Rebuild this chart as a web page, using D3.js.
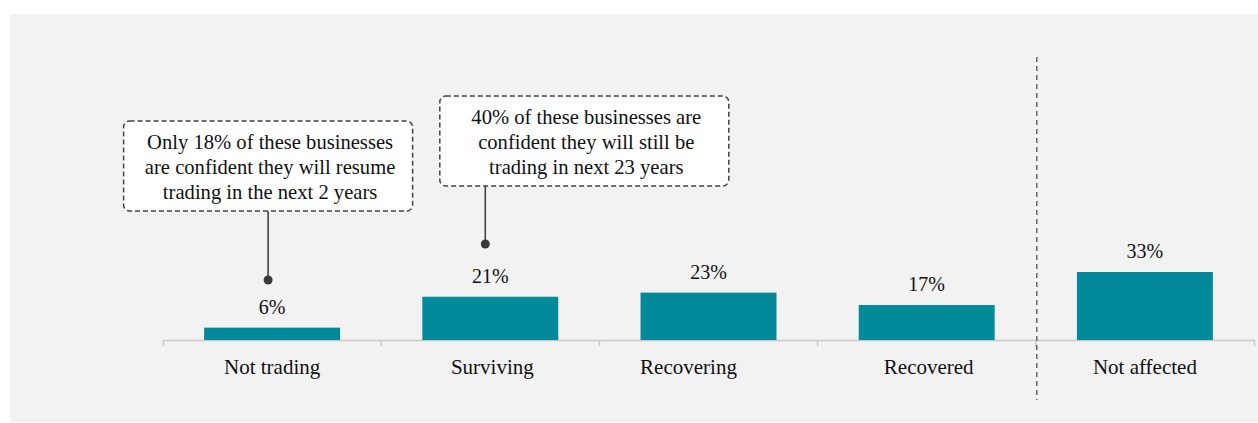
<!DOCTYPE html>
<html>
<head>
<meta charset="utf-8">
<script src="https://cdn.jsdelivr.net/npm/d3@7"></script>
<style>
  body { margin: 0; background: #fff; }
  svg { display: block; }
  text { font-family: "Liberation Serif", "Times New Roman", serif; fill: #111; }
</style>
</head>
<body>
<svg id="chart"></svg>
<script>
// data
const categories = ["Not trading", "Surviving", "Recovering", "Recovered", "Not affected"];
const values = [0.06, 0.21, 0.23, 0.17, 0.33];
const callouts = [
    { category: "Not trading", lines: ["Only 18% of these businesses", "are confident they will resume", "trading in the next 2 years"] },
    { category: "Surviving", lines: ["40% of these businesses are", "confident they will still be", "trading in next 23 years"] },
];

const W = 1258, H = 423;
const svg = d3.select("#chart").attr("width", W).attr("height", H);

svg.append("rect")
    .attr("x", 10).attr("y", 14)
    .attr("width", W - 10).attr("height", H - 14 - 1)
    .attr("fill", "#f2f2f2");

const base = 340;
const x = d3.scaleBand()
    .domain(categories)
    .range([163, 1254])
    .paddingInner(0.377)
    .paddingOuter(0.1885);

const y = d3.scaleLinear().domain([0, 1]).range([base, base - 206]);

const step = x.step();
const edge = (d) => x(d) - step * x.paddingInner() / 2;

// small label nudges seen in the original
const labelShift = { "Recovering": -20, "Surviving": 2, "Recovered": 2 };

// axis
const axis = svg.append("g")
    .attr("transform", `translate(0, ${base})`)
    .call(d3.axisBottom(x).tickSizeInner(0).tickSizeOuter(6).tickPadding(0));
axis.select(".domain").attr("stroke", "#c9c9c9").attr("stroke-width", 1.5);
axis.selectAll(".tick line").remove();
axis.selectAll(".tick text")
    .attr("y", 34).attr("dy", 0)
    .attr("x", (d) => labelShift[d] || 0)
    .style("font-size", "21px")
    .style("font-family", "Liberation Serif, serif")
    .attr("fill", "#111");

axis.selectAll(".inner-tick")
    .data(categories.slice(1))
    .join("line")
    .attr("class", "inner-tick")
    .attr("x1", edge).attr("x2", edge)
    .attr("y1", 0).attr("y2", 6)
    .attr("stroke", "#c9c9c9").attr("stroke-width", 1.5);

// bars
svg.selectAll(".bar")
    .data(categories)
    .join("rect")
    .attr("class", "bar")
    .attr("x", (d) => x(d))
    .attr("y", (d, i) => y(values[i]))
    .attr("width", x.bandwidth())
    .attr("height", (d, i) => base - y(values[i]))
    .attr("fill", "#02899a");

svg.selectAll(".val")
    .data(categories)
    .join("text")
    .attr("class", "val")
    .attr("x", (d) => x(d) + x.bandwidth() / 2)
    .attr("y", (d, i) => y(values[i]) - 14)
    .attr("text-anchor", "middle")
    .style("font-size", "20px")
    .text((d, i) => Math.round(values[i] * 100) + "%");

// divider before "Not affected"
const divX = edge("Not affected") + 1;
svg.append("line")
    .attr("x1", divX).attr("x2", divX)
    .attr("y1", 57).attr("y2", 400)
    .attr("stroke", "#666").attr("stroke-width", 1.5)
    .attr("stroke-dasharray", "5,4");

// callouts
const boxLayout = [
    { dx: -4, top: 121, w: 289, h: 90, textDx: 2, lineX: -4, dotY: 280 },
    { dx: 94, top: 96, w: 289, h: 90, textDx: 2, lineX: -5, dotY: 244 },
];

callouts.forEach((c, i) => {
    const L = boxLayout[i];
    const cx = x(c.category) + x.bandwidth() / 2;
    const bx = cx + L.dx;
    const g = svg.append("g");
    g.append("line")
        .attr("x1", cx + L.lineX).attr("x2", cx + L.lineX)
        .attr("y1", L.top + L.h).attr("y2", L.dotY)
        .attr("stroke", "#3a3a3a").attr("stroke-width", 1.5);
    g.append("circle")
        .attr("cx", cx + L.lineX).attr("cy", L.dotY).attr("r", 4.5)
        .attr("fill", "#3a3a3a");
    g.append("rect")
        .attr("x", bx - L.w / 2).attr("y", L.top)
        .attr("width", L.w).attr("height", L.h)
        .attr("rx", 6).attr("ry", 6)
        .attr("fill", "#fff")
        .attr("stroke", "#444").attr("stroke-width", 1.5)
        .attr("stroke-dasharray", "5,3");
    g.selectAll("text")
        .data(c.lines)
        .join("text")
        .attr("x", bx + L.textDx)
        .attr("y", (d, j) => L.top + 28 + j * 25)
        .attr("text-anchor", "middle")
        .style("font-size", "20.6px")
        .text((d) => d);
});
</script>
</body>
</html>
